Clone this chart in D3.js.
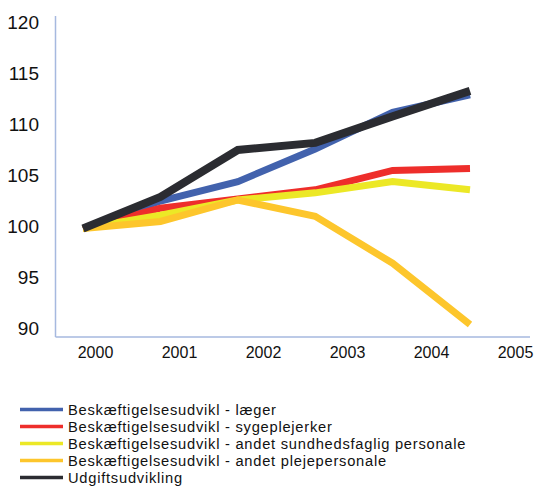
<!DOCTYPE html>
<html>
<head>
<meta charset="utf-8">
<script src="https://cdn.jsdelivr.net/npm/d3@7"></script>
<style>
  html, body { margin: 0; padding: 0; background: #fff; }
  svg { display: block; }
  text { font-family: "Liberation Sans", Arial, sans-serif; fill: #111; }
</style>
</head>
<body>
<svg id="chart" width="536" height="487"></svg>
<script>
// Index series, 2000-2005
const years = [2000, 2001, 2002, 2003, 2004, 2005];
const yTicks = [90, 95, 100, 105, 110, 115, 120];

const laeger        = [99.7, 102.4, 104.3, 107.5, 111.1, 112.8];
const sygeplejerker = [99.7, 101.7, 102.6, 103.5, 105.4, 105.6];
const sundhedsfagl  = [99.7, 101.0, 102.5, 103.2, 104.3, 103.5];
const plejepersonale= [99.7, 100.4, 102.5, 100.9, 96.3, 90.3];
const udgifter      = [99.7, 102.8, 107.4, 108.1, 110.7, 113.2];

const seriesNames = [
  "Beskæftigelsesudvikl - læger",
  "Beskæftigelsesudvikl - sygeplejerker",
  "Beskæftigelsesudvikl - andet sundhedsfaglig personale",
  "Beskæftigelsesudvikl - andet plejepersonale",
  "Udgiftsudvikling"
];
const seriesValues = [laeger, sygeplejerker, sundhedsfagl, plejepersonale, udgifter];
const seriesColors = ["#4262ad", "#ee2e2b", "#ece826", "#fdc62c", "#2b2c31"];
const seriesWidths = [7, 7, 7, 7, 8];

const svg = d3.select("#chart");

const y = d3.scaleLinear().domain([90, 120]).range([327.5, 21.5]);
// point positions of the series
const xPts = d3.scalePoint().domain(years).range([83, 470]);
// category labels under the axis
const xLab = d3.scalePoint().domain(years).range([95, 515]);

const axisColor = "#a6b9df";
const plotLeft = 55.5, plotTop = 16, plotBottom = 337, plotRight = 530;

// axis lines
svg.append("line")
  .attr("x1", plotLeft).attr("x2", plotLeft)
  .attr("y1", plotTop).attr("y2", plotBottom)
  .attr("stroke", axisColor).attr("stroke-width", 1.5);
svg.append("line")
  .attr("x1", plotLeft).attr("x2", plotRight)
  .attr("y1", plotBottom).attr("y2", plotBottom)
  .attr("stroke", axisColor).attr("stroke-width", 1.5);

// y tick labels
const yAxis = d3.axisLeft(y).tickValues(yTicks).tickSize(0).tickPadding(0);
const gy = svg.append("g").attr("transform", "translate(39,0)").call(yAxis);
gy.select(".domain").remove();
gy.selectAll("text")
  .style("font-family", "'Liberation Sans', Arial, sans-serif")
  .style("font-size", "19px")
  .attr("fill", "#111")
  .attr("dy", "0.36em");

// x category labels
const xAxis = d3.axisBottom(xLab).tickSize(0).tickPadding(0);
const gx = svg.append("g").attr("transform", "translate(0,347)").call(xAxis);
gx.select(".domain").remove();
gx.selectAll("text")
  .style("font-family", "'Liberation Sans', Arial, sans-serif")
  .style("font-size", "16px")
  .attr("fill", "#111")
  .attr("dy", "0.71em");

// series lines
const line = d3.line()
  .x((d, i) => xPts(years[i]))
  .y(d => y(d));

seriesValues.forEach((vals, k) => {
  svg.append("path")
    .datum(vals)
    .attr("d", line)
    .attr("fill", "none")
    .attr("stroke", seriesColors[k])
    .attr("stroke-width", seriesWidths[k])
    .attr("stroke-linejoin", "miter")
    .attr("stroke-linecap", "butt");
});

// legend
const legend = svg.append("g").attr("transform", "translate(20,409.5)");
seriesNames.forEach((name, k) => {
  const g = legend.append("g").attr("transform", `translate(0,${k * 17})`);
  g.append("line")
    .attr("x1", 0).attr("x2", 43).attr("y1", 0).attr("y2", 0)
    .attr("stroke", seriesColors[k]).attr("stroke-width", 3.5);
  g.append("text")
    .attr("x", 48).attr("y", 0).attr("dy", "0.36em")
    .style("font-size", "14.7px")
    .style("letter-spacing", "0.75px")
    .text(name);
});
</script>
</body>
</html>
